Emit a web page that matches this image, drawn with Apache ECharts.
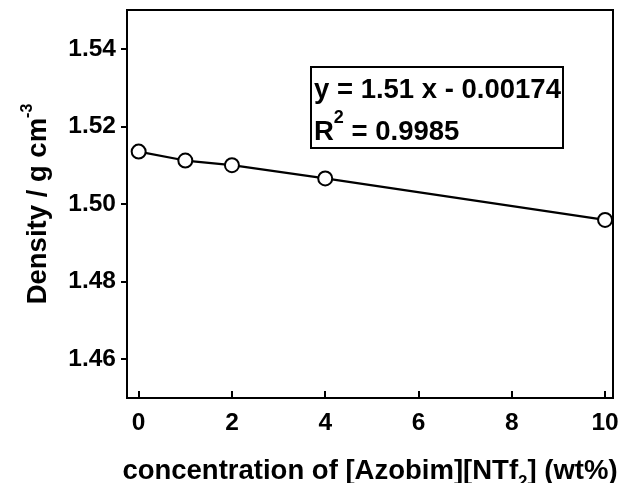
<!DOCTYPE html>
<html>
<head>
<meta charset="utf-8">
<script src="https://cdn.jsdelivr.net/npm/echarts@6/dist/echarts.min.js"></script>
<style>html,body{margin:0;padding:0;background:#fff}#c{width:622px;height:483px}</style>
</head>
<body>
<div id="c"></div>
<script>
// Data
var concentration = [0, 1, 2, 4, 10];
var density = [1.5135, 1.5112, 1.5100, 1.5066, 1.4959];
var xTicks = [0, 2, 4, 6, 8, 10];
var yTicks = [1.46, 1.48, 1.50, 1.52, 1.54];
var fitText = 'y = 1.51 x - 0.00174';
var r2Text = '0.9985';

var FONT = '"Liberation Sans", Arial, sans-serif';
var chart = echarts.init(document.getElementById('c'));
var points = concentration.map(function (x, i) { return [x, density[i]]; });

chart.setOption({
  animation: false,
  backgroundColor: '#fff',
  grid: { left: 127, right: 9, top: 10, bottom: 85, containLabel: false, outerBoundsMode: 'none',
    show: true, borderColor: '#000', borderWidth: 2, backgroundColor: 'transparent' },
  xAxis: {
    type: 'value', min: -0.25, max: 10.17,
    name: 'concentration of [Azobim][NTf{sub|2}] (wt%)',
    nameLocation: 'middle', nameGap: 53,
    nameTextStyle: {
      fontFamily: FONT, fontWeight: 'bold', fontSize: 27.5, color: '#000', lineHeight: 40,
      rich: { sub: { fontFamily: FONT, fontWeight: 'bold', fontSize: 17, color: '#000', verticalAlign: 'bottom' } }
    },
    axisLine: { onZero: false, lineStyle: { color: '#000', width: 2 } },
    axisTick: { show: true, inside: true, length: 7, lineStyle: { color: '#000', width: 2 }, customValues: xTicks },
    axisLabel: { customValues: xTicks, margin: 13, fontFamily: FONT, fontWeight: 'bold', fontSize: 24.5, color: '#000' },
    splitLine: { show: false }
  },
  yAxis: {
    type: 'value', min: 1.45, max: 1.55,
    name: '{a|Density / g cm}{s|-3}',
    nameLocation: 'middle', nameGap: 69, nameRotate: 90,
    nameTextStyle: {
      fontFamily: FONT, fontWeight: 'bold', fontSize: 27.5, color: '#000', lineHeight: 38,
      rich: {
        a: { fontFamily: FONT, fontWeight: 'bold', fontSize: 27.5, color: '#000', lineHeight: 38 },
        s: { fontFamily: FONT, fontWeight: 'bold', fontSize: 16, color: '#000', verticalAlign: 'top' }
      }
    },
    axisLine: { show: true, onZero: false, lineStyle: { color: '#000', width: 2 } },
    axisTick: { show: true, inside: false, length: 6, lineStyle: { color: '#000', width: 2 }, customValues: yTicks },
    axisLabel: { customValues: yTicks, margin: 11, fontFamily: FONT, fontWeight: 'bold', fontSize: 24.5, color: '#000',
      formatter: function (v) { return v.toFixed(2); } },
    splitLine: { show: false }
  },
  series: [{
    type: 'line', data: points,
    lineStyle: { color: '#000', width: 2.2 },
    symbol: 'circle', symbolSize: 14,
    itemStyle: { color: '#fff', borderColor: '#000', borderWidth: 2 }
  }],
  graphic: [
    { type: 'rect', shape: { x: 311, y: 67, width: 252, height: 81 }, style: { fill: '#fff', stroke: '#000', lineWidth: 2 }, z: 10 },
    { type: 'text', x: 314, y: 90, z: 11, style: { text: fitText, font: 'bold 27.5px ' + FONT, fill: '#000', verticalAlign: 'middle', align: 'left' } },
    { type: 'text', x: 314, y: 132, z: 11, style: {
      text: '{r|R}{s|2}{r| = ' + r2Text + '}', verticalAlign: 'middle', align: 'left',
      rich: {
        r: { font: 'bold 27.5px ' + FONT, fill: '#000', lineHeight: 46 },
        s: { font: 'bold 18px ' + FONT, fill: '#000', verticalAlign: 'top' }
      } } }
  ]
});
</script>
</body>
</html>
